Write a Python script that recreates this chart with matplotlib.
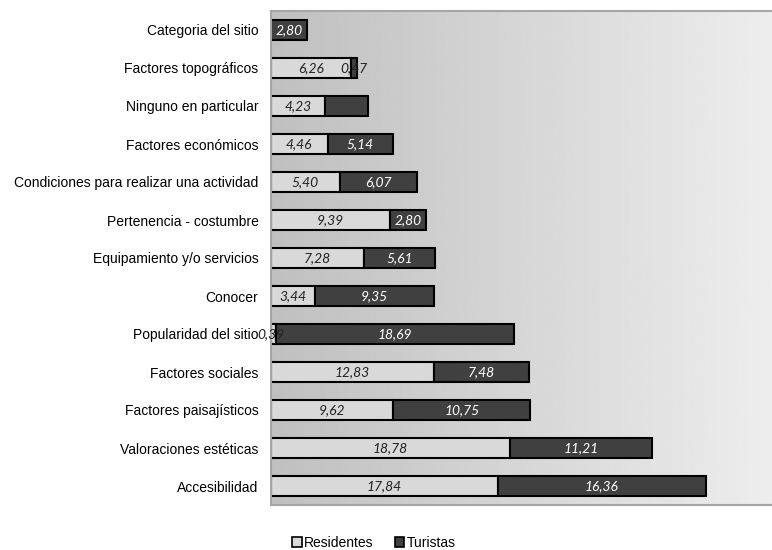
import numpy as np
import matplotlib.pyplot as plt
from matplotlib.patches import Patch

# Categories from bottom to top
categorias = ["Accesibilidad", "Valoraciones estéticas", "Factores paisajísticos",
              "Factores sociales", "Popularidad del sitio", "Conocer",
              "Equipamiento y/o servicios", "Pertenencia - costumbre",
              "Condiciones para realizar una actividad", "Factores económicos",
              "Ninguno en particular", "Factores topográficos", "Categoria del sitio"]
residentes = [17.84, 18.78, 9.62, 12.83, 0.39, 3.44, 7.28, 9.39, 5.40, 4.46, 4.23, 6.26, 0.0]
turistas = [16.36, 11.21, 10.75, 7.48, 18.69, 9.35, 5.61, 2.80, 6.07, 5.14, 3.38, 0.47, 2.80]
etiq_res = ["17,84", "18,78", "9,62", "12,83", "0,39", "3,44", "7,28", "9,39", "5,40", "4,46", "4,23", "6,26", ""]
etiq_tur = ["16,36", "11,21", "10,75", "7,48", "18,69", "9,35", "5,61", "2,80", "6,07", "5,14", "", "0,47", "2,80"]

fig = plt.figure(figsize=(7.72, 5.5), dpi=100)
ax = fig.add_axes([271/772, 45/550, 501/772, 494/550])

y = np.arange(len(categorias))
xmax = 39.4
ax.set_xlim(0, xmax)
ax.set_ylim(-0.5, len(categorias) - 0.5)

# gradient background of the plot area
grad = np.linspace(0.75, 0.93, 256).reshape(1, -1)
ax.imshow(grad, cmap="gray", vmin=0, vmax=1, aspect="auto",
          extent=[0, xmax, -0.5, len(categorias) - 0.5], zorder=0)

ax.barh(y, residentes, height=0.53, color="#d9d9d9", edgecolor="black", linewidth=1.5, zorder=2)
ax.barh(y, turistas, left=residentes, height=0.53, color="#404040", edgecolor="black", linewidth=1.5, zorder=2)

for i in range(len(categorias)):
    if etiq_res[i]:
        xr = residentes[i] / 2
        if residentes[i] < 1:
            xr = 0.0
        ax.text(xr, y[i], etiq_res[i], ha="center", va="center", fontsize=10,
                style="italic", family="Lato", color="#222222", zorder=3)
    if etiq_tur[i]:
        xt = residentes[i] + turistas[i] / 2
        col = "white"
        if turistas[i] < 1:
            col = "#222222"
        ax.text(xt, y[i], etiq_tur[i], ha="center", va="center", fontsize=10,
                style="italic", family="Lato", color=col, zorder=3)

ax.set_yticks(y)
ax.set_yticklabels(categorias, fontsize=10, family="Liberation Sans")
ax.tick_params(axis="y", length=0, pad=9)
ax.set_xticks([])
for s in ["left", "top", "bottom"]:
    ax.spines[s].set_color("#a6a6a6")
    ax.spines[s].set_linewidth(1.5)
ax.spines["right"].set_visible(False)

handles = [Patch(facecolor="#d9d9d9", edgecolor="black", linewidth=1.2, label="Residentes"),
           Patch(facecolor="#404040", edgecolor="black", linewidth=1.2, label="Turistas")]
fig.legend(handles=handles, loc="center", bbox_to_anchor=(374/772, 1 - 543/550), ncol=2,
           frameon=False, prop={"family": "Liberation Sans", "size": 10},
           handlelength=0.7, handleheight=0.7, handletextpad=0.2, columnspacing=1.5)

fig.savefig("out.png", dpi=100)
